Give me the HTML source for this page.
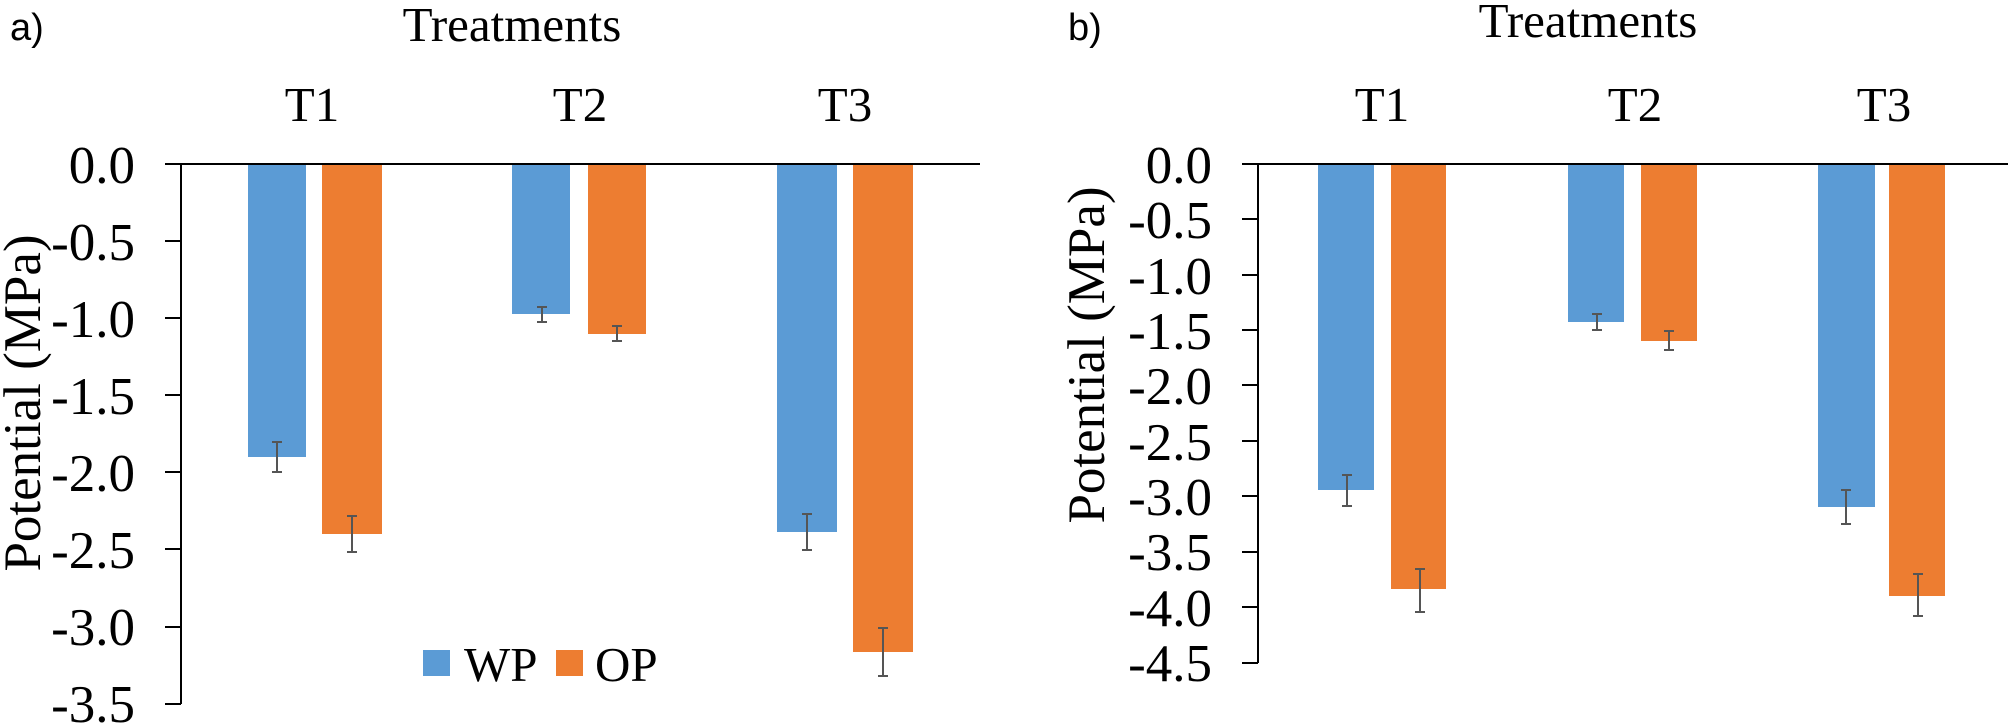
<!DOCTYPE html>
<html><head><meta charset="utf-8"><style>
html,body{margin:0;padding:0;background:#fff;}
svg{display:block;}
.s{font-family:"Liberation Serif","Times New Roman",serif !important;fill:#000;}
</style></head><body>
<svg width="2008" height="723" viewBox="0 0 2008 723" xmlns="http://www.w3.org/2000/svg" font-family="Liberation Serif, serif">
<!-- Panel a -->
<text x="10" y="40" style="font-family:'Liberation Sans',sans-serif" font-size="38">a)</text>
<text class="s" x="512" y="41" font-size="49" text-anchor="middle">Treatments</text>
<text class="s" x="312" y="121" font-size="49" text-anchor="middle">T1</text>
<text class="s" x="580" y="121" font-size="49" text-anchor="middle">T2</text>
<text class="s" x="845" y="121" font-size="49" text-anchor="middle">T3</text>
<text class="s" transform="translate(40,403) rotate(-90)" font-size="53" text-anchor="middle">Potential (MPa)</text>
<text class="s" x="135" y="183" font-size="53" text-anchor="end">0.0</text>
<text class="s" x="135" y="260" font-size="53" text-anchor="end">-0.5</text>
<text class="s" x="135" y="337" font-size="53" text-anchor="end">-1.0</text>
<text class="s" x="135" y="414" font-size="53" text-anchor="end">-1.5</text>
<text class="s" x="135" y="491" font-size="53" text-anchor="end">-2.0</text>
<text class="s" x="135" y="568" font-size="53" text-anchor="end">-2.5</text>
<text class="s" x="135" y="645" font-size="53" text-anchor="end">-3.0</text>
<text class="s" x="135" y="722" font-size="53" text-anchor="end">-3.5</text>
<g stroke="#000" stroke-width="2">
<line x1="181" y1="164" x2="181" y2="704"/>
<line x1="165" y1="164" x2="980" y2="164"/>
<line x1="165" y1="241" x2="181" y2="241"/>
<line x1="165" y1="318" x2="181" y2="318"/>
<line x1="165" y1="395" x2="181" y2="395"/>
<line x1="165" y1="472" x2="181" y2="472"/>
<line x1="165" y1="549" x2="181" y2="549"/>
<line x1="165" y1="627" x2="181" y2="627"/>
<line x1="165" y1="704" x2="181" y2="704"/>
</g>
<g fill="#5b9bd5">
<rect x="248" y="165" width="58" height="292"/>
<rect x="512" y="165" width="58" height="149"/>
<rect x="777" y="165" width="60" height="367"/>
</g>
<g fill="#ed7d31">
<rect x="322" y="165" width="60" height="369"/>
<rect x="588" y="165" width="58" height="169"/>
<rect x="853" y="165" width="60" height="487"/>
</g>
<g stroke="#555" stroke-width="2">
<path d="M277 442V472M272 442H282M272 472H282"/>
<path d="M352 516V552M347 516H357M347 552H357"/>
<path d="M542 307V322M537 307H547M537 322H547"/>
<path d="M617 326V341M612 326H622M612 341H622"/>
<path d="M807 514V550M802 514H812M802 550H812"/>
<path d="M883 628V676M878 628H888M878 676H888"/>
</g>
<rect x="423" y="650" width="27" height="26" fill="#5b9bd5"/>
<text class="s" x="464" y="681" font-size="49">WP</text>
<rect x="556" y="650" width="27" height="26" fill="#ed7d31"/>
<text class="s" x="595" y="681" font-size="49">OP</text>

<!-- Panel b -->
<text x="1068" y="40" style="font-family:'Liberation Sans',sans-serif" font-size="38">b)</text>
<text class="s" x="1588" y="37" font-size="49" text-anchor="middle">Treatments</text>
<text class="s" x="1382" y="121" font-size="49" text-anchor="middle">T1</text>
<text class="s" x="1635" y="121" font-size="49" text-anchor="middle">T2</text>
<text class="s" x="1884" y="121" font-size="49" text-anchor="middle">T3</text>
<text class="s" transform="translate(1104,355) rotate(-90)" font-size="53" text-anchor="middle">Potential (MPa)</text>
<text class="s" x="1212" y="183" font-size="53" text-anchor="end">0.0</text>
<text class="s" x="1212" y="238" font-size="53" text-anchor="end">-0.5</text>
<text class="s" x="1212" y="294" font-size="53" text-anchor="end">-1.0</text>
<text class="s" x="1212" y="349" font-size="53" text-anchor="end">-1.5</text>
<text class="s" x="1212" y="404" font-size="53" text-anchor="end">-2.0</text>
<text class="s" x="1212" y="460" font-size="53" text-anchor="end">-2.5</text>
<text class="s" x="1212" y="515" font-size="53" text-anchor="end">-3.0</text>
<text class="s" x="1212" y="570" font-size="53" text-anchor="end">-3.5</text>
<text class="s" x="1212" y="626" font-size="53" text-anchor="end">-4.0</text>
<text class="s" x="1212" y="681" font-size="53" text-anchor="end">-4.5</text>
<g stroke="#000" stroke-width="2">
<line x1="1258" y1="164" x2="1258" y2="663"/>
<line x1="1242" y1="164" x2="2008" y2="164"/>
<line x1="1242" y1="219" x2="1258" y2="219"/>
<line x1="1242" y1="275" x2="1258" y2="275"/>
<line x1="1242" y1="330" x2="1258" y2="330"/>
<line x1="1242" y1="385" x2="1258" y2="385"/>
<line x1="1242" y1="441" x2="1258" y2="441"/>
<line x1="1242" y1="496" x2="1258" y2="496"/>
<line x1="1242" y1="552" x2="1258" y2="552"/>
<line x1="1242" y1="607" x2="1258" y2="607"/>
<line x1="1242" y1="663" x2="1258" y2="663"/>
</g>
<g fill="#5b9bd5">
<rect x="1318" y="165" width="56" height="325"/>
<rect x="1568" y="165" width="56" height="157"/>
<rect x="1818" y="165" width="57" height="342"/>
</g>
<g fill="#ed7d31">
<rect x="1391" y="165" width="55" height="424"/>
<rect x="1641" y="165" width="56" height="176"/>
<rect x="1889" y="165" width="56" height="431"/>
</g>
<g stroke="#555" stroke-width="2">
<path d="M1347 475V506M1342 475H1352M1342 506H1352"/>
<path d="M1420 569V612M1415 569H1425M1415 612H1425"/>
<path d="M1597 314V330M1592 314H1602M1592 330H1602"/>
<path d="M1669 331V350M1664 331H1674M1664 350H1674"/>
<path d="M1846 490V524M1841 490H1851M1841 524H1851"/>
<path d="M1918 574V616M1913 574H1923M1913 616H1923"/>
</g>
</svg>
</body></html>
